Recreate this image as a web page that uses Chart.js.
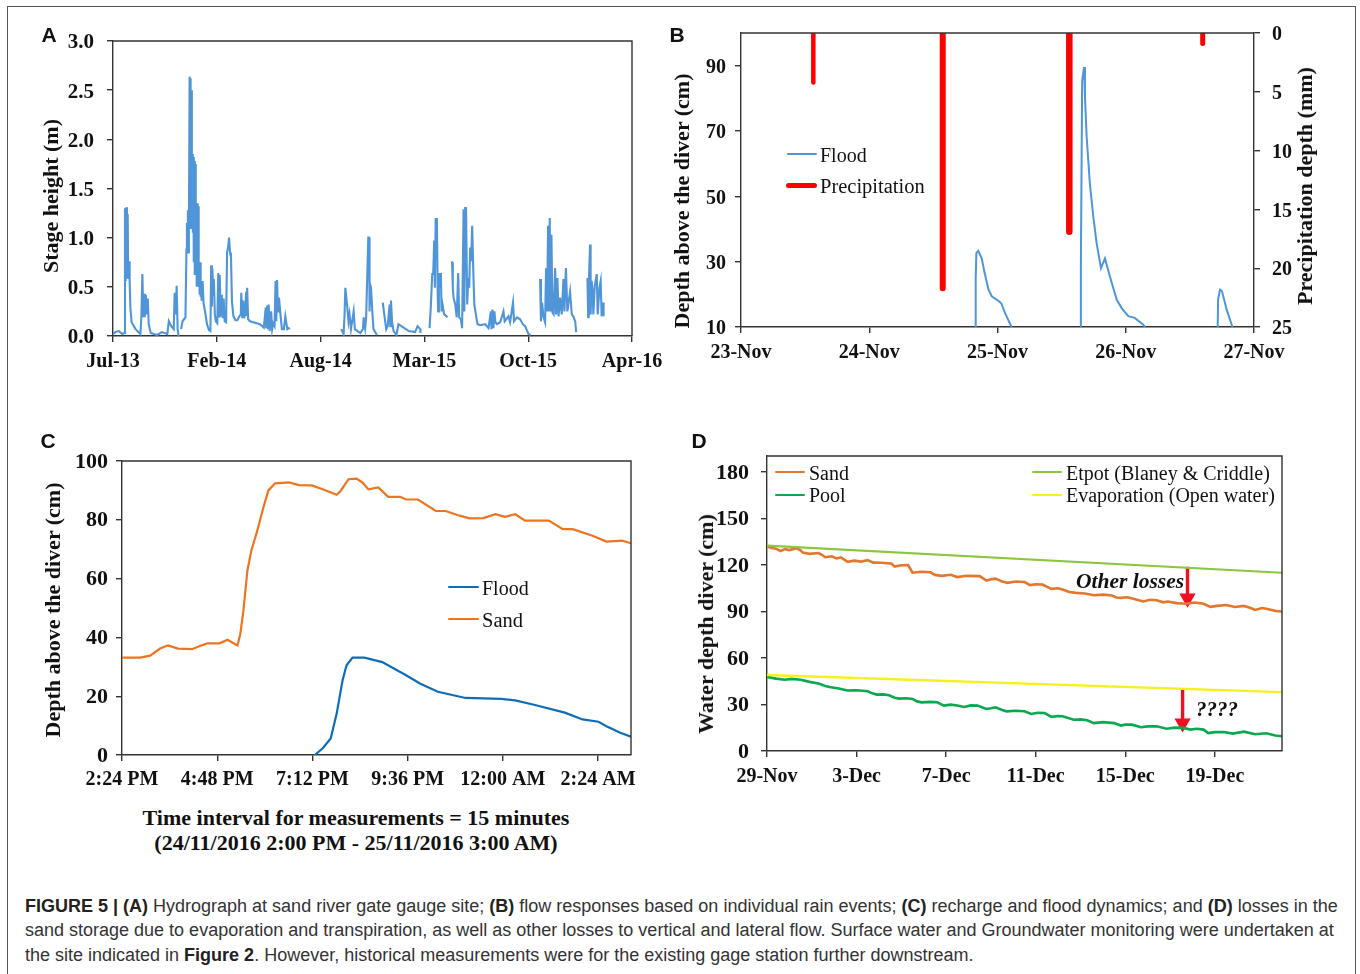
<!DOCTYPE html>
<html>
<head>
<meta charset="utf-8">
<script src="https://cdn.jsdelivr.net/npm/chart.js@4/dist/chart.umd.min.js"></script>
<style>
    html, body { margin: 0; padding: 0; background: #fff; }
    body { width: 1360px; height: 974px; position: relative; overflow: hidden; }
    #page { position: absolute; left: 0; top: 0; width: 1360px; height: 974px; background: #fff; overflow: hidden; filter: blur(0.4px); }
    canvas { position: absolute; }
    #frame { position: absolute; left: 7px; top: 6px; width: 1349px; height: 980px; border: 1px solid #555; box-sizing: border-box; }
    .txt { position: absolute; white-space: nowrap; color: #111; font-family: "Liberation Serif", serif; line-height: 1; }
    .key { position: absolute; }
    .cap { position: absolute; left: 25px; white-space: nowrap; font: 18px "Liberation Sans", sans-serif; color: #333; line-height: 1; }
    .cap b { color: #222; }
</style>
</head>
<body>
<div id="page">
<div id="frame"></div>
<canvas id="chartA" width="660" height="360" style="left:20px;top:20px"></canvas>
<canvas id="chartB" width="670" height="350" style="left:680px;top:20px"></canvas>
<canvas id="chartC" width="630" height="340" style="left:30px;top:445px"></canvas>
<canvas id="chartD" width="640" height="350" style="left:690px;top:445px"></canvas>
<div class="cap" style="top:897px"><b>FIGURE 5 | (A)</b> Hydrograph at sand river gate gauge site; <b>(B)</b> flow responses based on individual rain events; <b>(C)</b> recharge and flood dynamics; and <b>(D)</b> losses in the</div>
<div class="cap" style="top:921px">sand storage due to evaporation and transpiration, as well as other losses to vertical and lateral flow. Surface water and Groundwater monitoring were undertaken at</div>
<div class="cap" style="top:946px">the site indicated in <b>Figure 2</b>. However, historical measurements were for the existing gage station further downstream.</div>
</div>

<script>
// 面板 A: days since Jul-13, stage height (m)
const stageTicksX = [0, 212, 424, 636, 848, 1060];
const stageLabelsX = ['Jul-13', 'Feb-14', 'Aug-14', 'Mar-15', 'Oct-15', 'Apr-16'];
const stageTicksY = [0, 0.5, 1, 1.5, 2, 2.5, 3];
const stageSeries = [
    [0,.02],[5,.04],[12,.05],[19,.02],[23,.03],[24.5,1.3],[26,.56],[27,1.31],[28.5,.59],[30,1.24],[31,.58],[33,.76],[34,.56],[35.5,.29],[38,.14],[46,.07],[56,.02],
    [58,.2],[60,.63],[62,.19],[64,.43],[65,.19],[67,.42],[69,.22],[71,.38],[73,.12],[77,.03],[90,.01],[100,.04],[111,.02],[114,.15],[119,.1],[124,.07],[126,.44],[128,.22],[130,.51],[132,.07],[134,0],[135,null],
    [139,.07],[142,.15],[148,.19],[150,.88],[151,1.15],[152,.95],[153,1.28],[154,.85],[155,1.1],[156.5,2.64],[157.5,1.1],[158,2.62],[159,1.15],[160,2.5],[161,1.1],[162,1.85],[163,1.05],[164,1.82],[165,.75],[166,1.78],[167,.62],[168,1.75],[169,.7],[170,1.35],[171,.5],[172,1.35],[173,.5],[174,1.32],[175,.55],[176,.75],[177,.42],[178,.75],[179,.4],[180,.55],[181,.36],[183,.56],[185,.33],[188,.25],[192,.12],[196,.06],[199,.05],
    [200.5,.72],[202,.3],[203,.68],[205,.42],[206,.58],[208,.22],[210,.15],[213,.13],[215,.64],[216.5,.2],[218,.62],[220,.2],[222,.42],[224,.18],[226,.38],[228,.15],[231,.14],[233,.85],[235,.9],[237,1],[239,.85],[241,.8],[243,.35],[246,.2],[250,.16],[254,.16],[258,.2],[261,.22],[262,.44],[264,.18],[266,.36],[268,.18],[270,.26],[272,.45],[273,.2],[274,.49],[276,.17],[280,.15],[300,.12],[308,.085],
    [312,.29],[313,.08],[315,.31],[316.5,.07],[318,.32],[320,.05],[323,.25],[325,.07],[327,.13],[330,.1],[332,.56],[333.5,.15],[335,.57],[337,.25],[339,.39],[342,.22],[345,.07],[349,.07],[352,.2],[356,.07],[359,.08],[361,.07],[362,null],
    [466,.07],[471,.02],[473,.22],[474.5,.49],[478,.32],[481,.15],[483,.22],[486,.07],[491.5,.25],[494,.07],[505,.03],[510.5,.07],[512,.19],[515,.08],[517,.19],[521.4,1],[523,1],[524,.25],[525.5,.52],[527,.49],[530,.22],[532,.07],[539,.01],[540,null],
    [551,.34],[554,.22],[558,.07],[561,.1],[565,.32],[566.3,.1],[567.7,.36],[570,.14],[573,.05],[579,.01],[583,.12],[593.5,.085],[604,.05],[617,.04],[622,.1],[627.5,.07],[628,.03],[629,null],
    [646.5,.08],[649,.29],[652,.63],[654,.63],[656,.97],[657.4,.49],[659,1.19],[661.5,1.19],[663,.49],[664,.25],[665.6,.64],[667,.49],[669.7,.64],[671,.25],[673,.32],[676.5,.22],[683.3,.19],[684,null],
    [690.7,.75],[692.5,.75],[694,.49],[695.5,.39],[699,.32],[702,.19],[705,.64],[707,.19],[710.5,.17],[713,.08],[716,1.29],[717.5,.25],[719.3,1.3],[721,1.3],[723.4,.32],[725.5,.59],[727.5,.49],[729.5,.9],[731.5,.76],[733.6,1.12],[735,1.12],[736,.63],[738,.32],[741.7,.2],[744.5,.12],[750,.11],[760,.12],[767,.08],[771.7,.25],[773,.07],[775,.27],[777,.08],[779,.25],[781,.14],[784,.12],[790.7,.14],[797.5,.25],[800,.15],[807.7,.2],[811,.14],[817,.34],[819,.15],[825,.19],[831.5,.17],[837,.12],[841.7,.1],[848.5,.02],[853,.01],[854,null],
    [872.3,.58],[874,.15],[876.4,.34],[879,.2],[882.5,.14],[884.5,.69],[886.5,.25],[888.6,1.12],[890,.25],[892,1.2],[893.5,.25],[895.4,1.03],[897.5,.24],[900,.22],[903,.69],[905,.22],[907.7,.59],[910,.2],[913,.39],[916.5,.22],[920,.58],[922,.25],[925,.69],[928,.25],[933.5,.45],[937,.22],[940,.2],[944,.15],[946,.04],[947,null],
    [969,.59],[970.5,.19],[971.6,.49],[974.3,.93],[975.5,.22],[977.5,.56],[979.5,.46],[981,.22],[984,.51],[988,.63],[990,.22],[993.5,.49],[996,.56],[998,.2],[1001.5,.34],[1002,.2]
];

// 面板 B: days since 23-Nov, depth (cm), precipitation (mm)
const floodTicksX = [0, 1, 2, 3, 4];
const floodLabelsX = ['23-Nov', '24-Nov', '25-Nov', '26-Nov', '27-Nov'];
const floodTicksY = [10, 30, 50, 70, 90];
const rainTicksY = [0, 5, 10, 15, 20, 25];
const floodSeries = [
    [1.825,10],[1.83,24.5],[1.835,32.6],[1.85,33.3],[1.877,31],[1.9,26.5],[1.93,21.4],[1.955,19.4],[2.014,17.8],[2.03,17.2],[2.058,14.3],[2.11,10],[2.12,null],
    [2.648,10],[2.65,28],[2.66,85.3],[2.675,89.6],[2.682,80.5],[2.695,68.3],[2.72,54],[2.747,43.8],[2.773,35.6],[2.807,28],[2.838,31],[2.877,25.4],[2.93,18.3],[2.968,15.8],[3.02,13.3],[3.07,12.8],[3.137,10.7],[3.15,10],[3.16,null],
    [3.717,10],[3.72,18.4],[3.735,21.4],[3.75,21],[3.787,15.3],[3.832,10]
];
const rainFirst = [[.564,0],[.564,4.2]];
const rainSecond = [[1.573,0],[1.573,21.7]];
const rainThird = [[2.56,0],[2.56,16.9]];
const rainFourth = [[3.6,0],[3.6,.9]];

// 面板 C: hours since 2:24 PM, depth (cm)
const rechargeTicksX = [0, 2.4, 4.8, 7.2, 9.6, 12];
const rechargeLabelsX = ['2:24 PM', '4:48 PM', '7:12 PM', '9:36 PM', '12:00 AM', '2:24 AM'];
const rechargeTicksY = [0, 20, 40, 60, 80, 100];
const rechargeSand = [
    [0,33.1],[.46,33.1],[.71,33.8],[.96,36.2],[1.16,37.3],[1.41,36.2],[1.76,36],[2.01,37.3],[2.16,38],[2.46,38],[2.66,39.2],[2.81,38],[2.91,37.3],[2.98,41],[3.06,49],[3.16,62.7],[3.26,69.5],[3.41,76.3],[3.56,84],[3.69,90],[3.86,92.4],[4.21,92.7],[4.46,91.8],[4.78,91.7],[5.06,90.4],[5.41,88.5],[5.51,89.8],[5.71,93.8],[5.91,94],[6.06,92.7],[6.21,90.4],[6.46,91],[6.71,87.8],[7.01,87.8],[7.16,86.9],[7.46,86.9],[7.91,83],[8.16,83],[8.51,81.4],[8.76,80.5],[9.11,80.6],[9.41,81.9],[9.66,81],[9.91,81.9],[10.16,79.7],[10.76,79.7],[11.11,76.8],[11.36,76.8],[11.86,74.6],[12.21,72.6],[12.61,72.9],[12.83,72]
];
const rechargeFlood = [
    [4.86,0],[5.06,2.3],[5.26,5.6],[5.41,14],[5.56,25.4],[5.66,30.5],[5.81,33.1],[6.11,33.1],[6.56,31.6],[7.16,27.1],[7.51,24.3],[7.96,21.5],[8.66,19.4],[9.56,19.1],[9.91,18.6],[10.41,17],[11.16,14.4],[11.61,12.1],[12.01,11.3],[12.21,9.8],[12.56,7.6],[12.83,6.2]
];

// 面板 D: days since 29-Nov, water depth (cm)
const lossTicksX = [0, 4, 8, 12, 16, 20];
const lossLabelsX = ['29-Nov', '3-Dec', '7-Dec', '11-Dec', '15-Dec', '19-Dec'];
const lossTicksY = [0, 30, 60, 90, 120, 150, 180];
const lossSand = [
    [0,132],[.2,131],[.4,130.5],[.6,129],[.8,130.3],[1,129.6],[1.33,130.8],[1.5,129.5],[1.6,128],[1.9,127.2],[2.3,127.7],[2.45,126.6],[2.6,125],[2.9,125.6],[3.1,124.2],[3.3,124.9],[3.6,122],[3.9,122.8],[4.2,122.2],[4.5,123.1],[4.74,121.5],[5.1,121.4],[5.55,121],[5.7,119],[6,119.8],[6.3,120],[6.5,115],[6.9,115.6],[7.3,115.3],[7.5,113.6],[7.8,113],[8.2,113.7],[8.5,112.2],[8.9,113],[9.5,112.8],[9.8,110],[10,110.8],[10.2,111.2],[10.5,109.4],[10.75,108.5],[11.1,109.3],[11.5,109],[11.75,107],[12,107.6],[12.3,107.4],[12.7,104.6],[13,105],[13.2,104.2],[13.5,102.6],[13.8,102],[14.2,101.6],[14.6,100.5],[15,100.9],[15.4,100.3],[15.6,99],[15.8,98.8],[16.1,99.2],[16.4,98],[16.8,96.5],[17.1,97.6],[17.4,97.3],[17.7,95.9],[17.9,96.4],[18.3,95.4],[18.7,95],[19.1,95.8],[19.5,95],[19.8,93],[20.1,93.6],[20.5,94.2],[20.9,92.9],[21.3,93.6],[21.6,92.2],[21.8,91],[22.1,92.2],[22.3,91.8],[22.7,90.4],[23,90]
];
const lossPool = [
    [0,47.8],[.4,46.7],[.8,46],[1.1,46.5],[1.5,46],[1.9,44.6],[2.3,43.5],[2.6,42],[2.8,41.3],[3.2,40.3],[3.6,39],[4,39.2],[4.5,38.5],[4.7,37.2],[4.9,36.4],[5.2,36.5],[5.45,36],[5.7,34.4],[5.9,33.8],[6.2,34],[6.5,33.6],[6.7,32],[6.9,31.4],[7.3,31.7],[7.6,31.4],[7.9,29.3],[8.2,29.9],[8.5,29.3],[8.8,28.4],[9.1,29.4],[9.4,29.3],[9.8,27.1],[10,27.6],[10.2,28.2],[10.5,26.4],[10.7,25.6],[11.1,26],[11.5,25.6],[11.8,23.9],[12.1,24.7],[12.4,24.5],[12.7,22],[13,22.6],[13.2,22.4],[13.7,20.2],[14,20.4],[14.3,19.8],[14.6,18],[15,18.6],[15.5,18],[15.8,16.4],[16,17],[16.3,17],[16.7,15.3],[17,15.9],[17.4,16],[17.85,14.4],[18.2,15.1],[18.6,14.9],[18.9,13.8],[19.2,14.3],[19.5,13.8],[19.7,11.6],[20,12.2],[20.4,12.3],[20.8,11.2],[21.3,12.5],[21.8,10.8],[22.3,11.4],[22.7,10],[23,9.5]
];
const lossEtpot = [[0,132.5],[23,115]];
const lossEvaporation = [[0,49],[23,38]];
const otherLossArrow = [[18.78,118.9],[18.78,98.5]];
const unknownArrow = [[18.56,39.6],[18.56,18]];

function toPoints(series) {
    return series.map(function (p) { return { x: p[0], y: p[1] }; });
}

function line(series, color, width, extra) {
    return Object.assign({
        data: toPoints(series),
        borderColor: color,
        backgroundColor: color,
        borderWidth: width,
        pointRadius: 0,
        tension: 0,
        spanGaps: false
    }, extra || {});
}

// 固定刻度
function axis(position, min, max, values, labels, size, gap, nudge, fit, extra) {
    return Object.assign({
        type: 'linear',
        position: position,
        min: min,
        max: max,
        afterBuildTicks: function (scale) {
            scale.ticks = values.map(function (v) { return { value: v }; });
        },
        afterFit: function (scale) {
            if (position === 'bottom') scale.height = fit; else scale.width = fit;
            // 标签不占布局
            scale.paddingTop = scale.paddingBottom = scale.paddingLeft = scale.paddingRight = 0;
        },
        grid: { display: true, drawOnChartArea: false, drawTicks: true, tickLength: 6, color: '#333', lineWidth: 1.4 },
        border: { display: true, color: '#333', width: 1.4 },
        ticks: {
            autoSkip: false,
            maxRotation: 0,
            padding: gap,
            labelOffset: nudge,
            color: '#111',
            font: { family: 'Liberation Serif', weight: 'bold', size: size },
            callback: function (value, index) { return labels ? labels[index] : value; }
        }
    }, extra || {});
}

// 画上边和右边的框线
const boxFrame = {
    id: 'boxFrame',
    afterDatasetsDraw: function (chart, args, opts) {
        const a = chart.chartArea, c = chart.ctx;
        c.save();
        c.strokeStyle = '#333';
        c.lineWidth = 1.4;
        c.beginPath();
        c.moveTo(a.left, a.top);
        c.lineTo(a.right, a.top);
        if (opts.right) c.lineTo(a.right, a.bottom);
        c.stroke();
        c.restore();
    }
};
Chart.register(boxFrame);

function createChart(id, box, plot, datasets, scales, right) {
    const canvas = document.getElementById(id);
    return new Chart(canvas.getContext('2d'), {
        type: 'line',
        data: { datasets: datasets },
        options: {
            responsive: false,
            animation: false,
            devicePixelRatio: 1,
            layout: { padding: { top: plot.t - box.y, right: right ? 0 : box.x + box.w - plot.r, left: 0, bottom: 0 } },
            plugins: { legend: { display: false }, tooltip: { enabled: false }, boxFrame: { right: right !== 'axis' } },
            scales: scales
        }
    });
}

const boxA = { x: 20, y: 20, w: 660, h: 360 }, plotA = { l: 113, t: 41, r: 632, b: 336 };
const boxB = { x: 680, y: 20, w: 670, h: 350 }, plotB = { l: 741, t: 33, r: 1254, b: 327 };
const boxC = { x: 30, y: 445, w: 630, h: 340 }, plotC = { l: 122, t: 461, r: 631, b: 755 };
const boxD = { x: 690, y: 445, w: 640, h: 350 }, plotD = { l: 767, t: 456, r: 1282, b: 751 };

createChart('chartA', boxA, plotA, [line(stageSeries, '#4f95d8', 2.1)], {
    x: axis('bottom', 0, 1060, stageTicksX, stageLabelsX, 20, 8, 0, boxA.y + boxA.h - plotA.b),
    y: axis('left', 0, 3, stageTicksY, stageTicksY.map(function (v) { return v.toFixed(1); }), 21, 13, 2, plotA.l - boxA.x)
});

createChart('chartB', boxB, plotB, [
    line(floodSeries, '#4f95d8', 2, { yAxisID: 'y' }),
    line(rainFirst, '#ff0000', 4.5, { yAxisID: 'rain', borderCapStyle: 'round' }),
    line(rainSecond, '#ff0000', 6, { yAxisID: 'rain', borderCapStyle: 'round' }),
    line(rainThird, '#ff0000', 6.5, { yAxisID: 'rain', borderCapStyle: 'round' }),
    line(rainFourth, '#ff0000', 5, { yAxisID: 'rain', borderCapStyle: 'round' })
], {
    x: axis('bottom', 0, 4, floodTicksX, floodLabelsX, 20, 8, 0, boxB.y + boxB.h - plotB.b),
    y: axis('left', 10, 100, floodTicksY, null, 20, 9, 2, plotB.l - boxB.x),
    rain: axis('right', 0, 25, rainTicksY, null, 20, 12, 2, boxB.x + boxB.w - plotB.r, { reverse: true })
}, 'axis');

createChart('chartC', boxC, plotC, [
    line(rechargeFlood, '#0f6db8', 2.2),
    line(rechargeSand, '#ed7420', 2.2)
], {
    x: axis('bottom', 0, 12.83, rechargeTicksX, rechargeLabelsX, 20, 7, 0, boxC.y + boxC.h - plotC.b),
    y: axis('left', 0, 100, rechargeTicksY, null, 22, 8, 1, plotC.l - boxC.x)
});

createChart('chartD', boxD, plotD, [
    line(lossEtpot, '#8cc63f', 2.2),
    line(lossEvaporation, '#f5f01e', 2.4),
    line(lossSand, '#e2772d', 2.6),
    line(lossPool, '#0aa84f', 2.6),
    line(otherLossArrow, '#f01020', 3.4, { pointStyle: 'triangle', pointRadius: [0, 6], pointRotation: 180 }),
    line(unknownArrow, '#f01020', 3.4, { pointStyle: 'triangle', pointRadius: [0, 6], pointRotation: 180 })
], {
    x: axis('bottom', 0, 23, lossTicksX, lossLabelsX, 20, 8, 0, boxD.y + boxD.h - plotD.b),
    y: axis('left', 0, 190.3, lossTicksY, null, 22, 12, 1, plotD.l - boxD.x)
});

// 其余文字
function addText(text, x, y, font, rotate, anchor) {
    const el = document.createElement('div');
    el.className = 'txt';
    el.textContent = text;
    el.style.left = x + 'px';
    el.style.top = y + 'px';
    el.style.font = font;
    const shift = anchor === 'left' ? 'translate(0,-50%)' : 'translate(-50%,-50%)';
    el.style.transform = shift + (rotate ? ' rotate(' + rotate + 'deg)' : '');
    document.getElementById('page').appendChild(el);
}

function addKey(x1, x2, y, color, width) {
    const el = document.createElement('div');
    el.className = 'key';
    el.style.cssText = 'left:' + x1 + 'px;top:' + (y - width / 2) + 'px;width:' + (x2 - x1) + 'px;height:' + width + 'px;background:' + color + ';border-radius:' + width / 2 + 'px';
    document.getElementById('page').appendChild(el);
}

const serif = '"Liberation Serif", serif';
const panelFont = 'bold 21px "Liberation Sans", sans-serif';
addText('A', 49, 35, panelFont);
addText('B', 677, 35, panelFont);
addText('C', 48, 441, panelFont);
addText('D', 699, 441, panelFont);

addText('Stage height (m)', 51, 196, 'bold 22px ' + serif, -90);
addText('Depth above the diver (cm)', 682, 201, 'bold 22px ' + serif, -90);
addText('Precipitation depth (mm)', 1305, 186, 'bold 22px ' + serif, -90);
addText('Depth above the diver (cm)', 53, 610, 'bold 22px ' + serif, -90);
addText('Water depth diver (cm)', 706, 624, 'bold 22px ' + serif, -90);

addText('Time interval for measurements = 15 minutes', 356, 818, 'bold 22px ' + serif);
addText('(24/11/2016 2:00 PM - 25/11/2016 3:00 AM)', 356, 843, 'bold 22px ' + serif);

addKey(787, 817, 154, '#4f95d8', 2);
addText('Flood', 820, 155, '20px ' + serif, 0, 'left');
addKey(786, 817, 185, '#ff0000', 5);
addText('Precipitation', 820, 186, '20.5px ' + serif, 0, 'left');

addKey(448, 479, 587, '#0f6db8', 2);
addText('Flood', 482, 588, '20px ' + serif, 0, 'left');
addKey(448, 479, 619, '#ed7420', 2);
addText('Sand', 482, 620, '20.5px ' + serif, 0, 'left');

addKey(775, 805, 472, '#e2772d', 2);
addText('Sand', 809, 473, '20px ' + serif, 0, 'left');
addKey(775, 805, 495, '#0aa84f', 2);
addText('Pool', 809, 495, '20px ' + serif, 0, 'left');
addKey(1032, 1062, 472, '#8cc63f', 2);
addText('Etpot (Blaney & Criddle)', 1066, 473, '20px ' + serif, 0, 'left');
addKey(1032, 1062, 495, '#f5f01e', 2);
addText('Evaporation (Open water)', 1066, 495, '20px ' + serif, 0, 'left');

addText('Other losses', 1130, 581, 'italic bold 21.5px ' + serif);
addText('????', 1217, 709, 'italic bold 21px ' + serif);
</script>
</body>
</html>
